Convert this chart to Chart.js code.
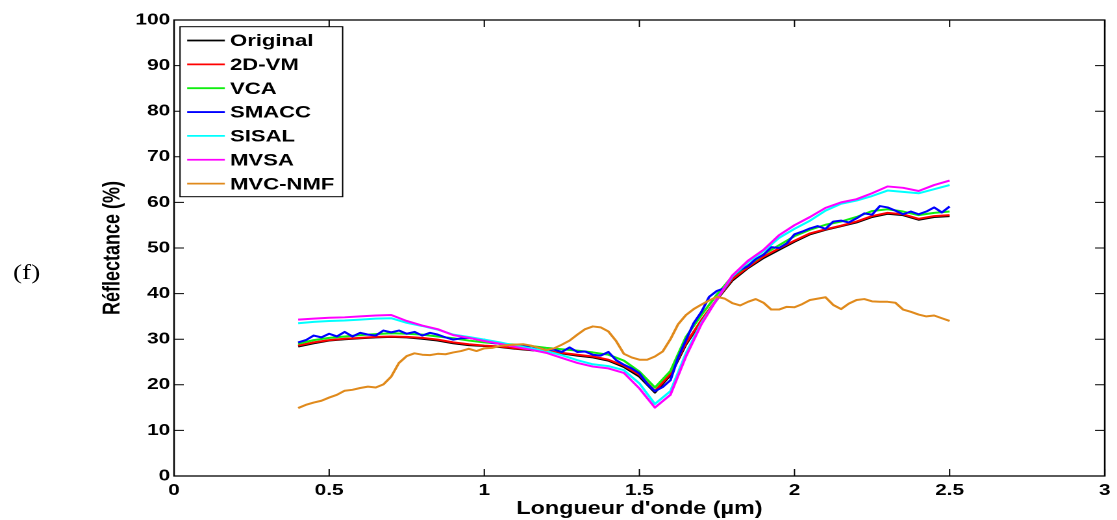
<!DOCTYPE html>
<html>
<head>
<meta charset="utf-8">
<script src="https://cdn.jsdelivr.net/npm/chart.js@4.4.1/dist/chart.umd.min.js"></script>
<style>
  html, body { margin: 0; padding: 0; background: #fff; overflow: hidden; }
  /* the source figure is stretched horizontally, so the whole chart is drawn narrow and scaled */
  #wrap { position: absolute; left: 0; top: 0; width: 860px; height: 520px; transform: scaleX(1.29884); transform-origin: 0 0; }
  #panel { position: absolute; left: 10px; top: 260px; font: 21px "Liberation Serif", "DejaVu Serif", serif; color: #000; }
</style>
</head>
<body>
<div id="wrap">
  <canvas id="spectraChart"></canvas>
  <div id="panel">(f)</div>
</div>
<script>
// wavelengths (µm)
const waveCoarse = [0.40, 0.45, 0.50, 0.55, 0.60, 0.65, 0.70, 0.75, 0.80, 0.85,
    0.90, 0.95, 1.00, 1.05, 1.10, 1.15, 1.20, 1.25, 1.30, 1.35,
    1.40, 1.45, 1.50, 1.55, 1.60, 1.65, 1.70, 1.75, 1.80, 1.85,
    1.90, 1.95, 2.00, 2.05, 2.10, 2.15, 2.20, 2.25, 2.30, 2.35,
    2.40, 2.45, 2.50];
const waveFine = [0.400, 0.425, 0.450, 0.475, 0.500, 0.525, 0.550, 0.575, 0.600, 0.625,
    0.650, 0.675, 0.700, 0.725, 0.750, 0.775, 0.800, 0.825, 0.850, 0.875,
    0.900, 0.925, 0.950, 0.975, 1.000, 1.025, 1.050, 1.075, 1.100, 1.125,
    1.150, 1.175, 1.200, 1.225, 1.250, 1.275, 1.300, 1.325, 1.350, 1.375,
    1.400, 1.425, 1.450, 1.475, 1.500, 1.525, 1.550, 1.575, 1.600, 1.625,
    1.650, 1.675, 1.700, 1.725, 1.750, 1.775, 1.800, 1.825, 1.850, 1.875,
    1.900, 1.925, 1.950, 1.975, 2.000, 2.025, 2.050, 2.075, 2.100, 2.125,
    2.150, 2.175, 2.200, 2.225, 2.250, 2.275, 2.300, 2.325, 2.350, 2.375,
    2.400, 2.425, 2.450, 2.475, 2.500];

// reflectance (%) on waveCoarse
const original = [28.4, 29.1, 29.7, 30.0, 30.2, 30.4, 30.5, 30.4, 30.1, 29.7,
    29.1, 28.7, 28.5, 28.3, 27.9, 27.6, 27.3, 26.9, 26.4, 26.0,
    25.3, 23.9, 21.8, 18.3, 22.1, 28.8, 34.0, 38.7, 42.9, 45.6,
    47.8, 49.6, 51.4, 53.0, 54.0, 54.8, 55.6, 56.8, 57.5, 57.2,
    56.2, 56.8, 57.0];
const vm2d = [28.6, 29.3, 29.8, 30.1, 30.3, 30.5, 30.6, 30.5, 30.3, 29.9,
    29.3, 28.9, 28.6, 28.4, 28.0, 27.7, 27.4, 27.0, 26.6, 26.2,
    25.5, 24.2, 22.2, 18.6, 22.4, 29.1, 34.2, 38.8, 43.2, 45.8,
    48.1, 49.9, 51.6, 53.2, 54.1, 54.9, 55.8, 57.0, 57.7, 57.4,
    56.4, 57.0, 57.2];
const vca = [29.0, 29.8, 30.3, 30.6, 30.9, 31.1, 31.3, 31.2, 31.0, 30.6,
    30.2, 29.7, 29.3, 29.0, 28.8, 28.5, 28.1, 27.8, 27.5, 27.1,
    26.6, 25.3, 22.9, 19.4, 23.0, 30.5, 35.3, 39.8, 43.8, 46.2,
    48.6, 50.6, 52.6, 54.0, 55.1, 55.8, 56.8, 58.1, 58.5, 58.0,
    57.2, 57.7, 58.0];
const sisal = [33.5, 33.8, 34.0, 34.1, 34.3, 34.5, 34.6, 33.6, 32.9, 32.1,
    31.0, 30.5, 29.9, 29.3, 28.6, 28.0, 27.4, 26.5, 25.4, 24.5,
    24.1, 23.2, 20.3, 15.8, 18.6, 26.9, 33.6, 38.8, 43.8, 46.9,
    49.3, 52.2, 54.2, 56.0, 58.2, 59.7, 60.4, 61.4, 62.6, 62.3,
    62.0, 62.9, 63.8];
const mvsa = [34.3, 34.5, 34.7, 34.8, 35.0, 35.2, 35.3, 34.0, 33.0, 32.2,
    30.9, 30.3, 29.6, 29.0, 28.3, 27.7, 27.0, 25.9, 24.8, 24.0,
    23.6, 22.6, 19.2, 15.0, 17.8, 26.2, 33.3, 38.8, 44.0, 47.2,
    49.6, 52.8, 55.0, 56.8, 58.8, 60.0, 60.7, 62.0, 63.5, 63.2,
    62.5, 63.8, 64.8];

// reflectance (%) on waveFine
const smacc = [29.3, 29.8, 30.8, 30.4, 31.2, 30.6, 31.6, 30.6, 31.4, 31.0,
    30.8, 31.9, 31.5, 31.9, 31.2, 31.6, 30.8, 31.4, 31.0, 30.4,
    29.9, 30.2, 30.3, 30.0, 29.9, 29.2, 29.0, 28.7, 28.6, 28.8,
    28.0, 28.1, 27.6, 27.7, 27.2, 28.2, 27.2, 27.3, 26.6, 26.4,
    27.2, 25.4, 24.4, 23.6, 22.5, 20.2, 18.6, 19.5, 21.0, 26.0,
    29.8, 33.5, 36.0, 39.3, 40.6, 41.2, 43.8, 45.2, 46.0, 47.6,
    48.5, 50.2, 50.0, 51.0, 53.0, 53.6, 54.3, 54.8, 54.2, 55.8,
    56.0, 55.6, 56.5, 57.6, 57.3, 59.2, 58.9, 58.2, 57.4, 58.0,
    57.4, 58.0, 58.9, 57.8, 59.1];
const mvcNmf = [14.9, 15.6, 16.1, 16.5, 17.2, 17.8, 18.7, 18.9, 19.3, 19.6,
    19.4, 20.1, 21.8, 24.8, 26.3, 26.9, 26.6, 26.5, 26.8, 26.7,
    27.1, 27.4, 27.9, 27.4, 28.0, 28.1, 28.5, 28.7, 28.8, 28.9,
    28.6, 28.1, 27.6, 28.0, 28.8, 29.7, 31.0, 32.2, 32.8, 32.6,
    31.7, 29.6, 26.8, 26.0, 25.5, 25.5, 26.2, 27.3, 30.0, 33.3,
    35.3, 36.6, 37.6, 38.5, 39.3, 38.9, 37.9, 37.4, 38.2, 38.8,
    38.0, 36.5, 36.5, 37.1, 37.0, 37.7, 38.6, 38.9, 39.2, 37.5,
    36.6, 37.8, 38.6, 38.8, 38.3, 38.2, 38.2, 38.0, 36.5, 36.0,
    35.4, 35.0, 35.2, 34.6, 34.0];

const seriesNames = ["Original", "2D-VM", "VCA", "SMACC", "SISAL", "MVSA", "MVC-NMF"];
const seriesColors = ["#000000", "#ff0000", "#10ee10", "#0000ff", "#00ffff", "#ff00ff", "#e08a1c"];
const seriesValues = [original, vm2d, vca, smacc, sisal, mvsa, mvcNmf];
const seriesWaves = [waveCoarse, waveCoarse, waveCoarse, waveFine, waveCoarse, waveCoarse, waveFine];

const xTicks = [0, 0.5, 1, 1.5, 2, 2.5, 3];

const datasets = seriesNames.map((name, i) => ({
    label: name,
    data: seriesWaves[i].map((w, k) => ({ x: w, y: seriesValues[i][k] })),
    borderColor: seriesColors[i],
    borderWidth: 2,
    borderJoinStyle: 'round',
    pointRadius: 0,
    tension: 0,
    fill: false,
    order: seriesNames.length - i   // later series on top, like the matlab plot
}));

// box, inward ticks and the boxed legend
const frameAndLegend = {
    id: 'frameAndLegend',
    afterDraw(chart) {
        const ctx = chart.ctx;
        const a = chart.chartArea;
        const xs = chart.scales.x, ys = chart.scales.y;
        ctx.save();
        ctx.strokeStyle = '#000';
        ctx.lineWidth = 1.3;
        ctx.strokeRect(a.left, a.top, a.right - a.left, a.bottom - a.top);

        ctx.lineWidth = 1;
        ctx.beginPath();
        xs.ticks.forEach(t => {
            const px = xs.getPixelForValue(t.value);
            ctx.moveTo(px, a.bottom); ctx.lineTo(px, a.bottom - 7);
            ctx.moveTo(px, a.top); ctx.lineTo(px, a.top + 7);
        });
        ys.ticks.forEach(t => {
            const py = ys.getPixelForValue(t.value);
            ctx.moveTo(a.left, py); ctx.lineTo(a.left + 7.5, py);
            ctx.moveTo(a.right, py); ctx.lineTo(a.right - 7.5, py);
        });
        ctx.stroke();

        // legend
        const lx = a.left + 4.6, ly = 26.7, lw = 125.2, lh = 170;
        ctx.fillStyle = '#fff';
        ctx.fillRect(lx, ly, lw, lh);
        ctx.strokeStyle = '#000';
        ctx.lineWidth = 1;
        ctx.strokeRect(lx, ly, lw, lh);
        ctx.font = 'bold 17px "Liberation Sans", Arial, sans-serif';
        ctx.textBaseline = 'middle';
        ctx.textAlign = 'left';
        chart.data.datasets.forEach((ds, i) => {
            const y = 40.5 + i * 23.85;
            ctx.strokeStyle = ds.borderColor;
            ctx.lineWidth = 1.8;
            ctx.beginPath();
            ctx.moveTo(lx + 5.5, y);
            ctx.lineTo(lx + 34.5, y);
            ctx.stroke();
            ctx.fillStyle = '#000';
            ctx.fillText(ds.label, lx + 38.5, y + 1);
        });
        ctx.restore();
    }
};

const tickFont = { family: '"Liberation Sans", Arial, sans-serif', size: 16, weight: 'bold' };
const titleFont = { family: '"Liberation Sans", Arial, sans-serif', size: 18, weight: 'bold' };

new Chart(document.getElementById('spectraChart').getContext('2d'), {
    type: 'line',
    data: { datasets: datasets },
    options: {
        responsive: true,
        maintainAspectRatio: false,
        animation: false,
        devicePixelRatio: 2,
        layout: { padding: { left: 76, right: 8.5, top: 20, bottom: 0 } },
        scales: {
            x: {
                type: 'linear',
                min: 0,
                max: 3,
                afterBuildTicks: (scale) => { scale.ticks = xTicks.map(v => ({ value: v })); },
                afterFit: (scale) => { scale.height = 44; },
                grid: { display: false, drawTicks: false },
                border: { display: false },
                ticks: { font: tickFont, color: '#000', padding: 5, maxRotation: 0, callback: v => String(v) },
                title: { display: true, text: "Longueur d'onde (µm)", font: titleFont, color: '#000', padding: 0 }
            },
            y: {
                min: 0,
                max: 100,
                afterFit: (scale) => { scale.width = 58; },
                grid: { display: false, drawTicks: false },
                border: { display: false },
                ticks: { stepSize: 10, font: tickFont, color: '#000', padding: 3, callback: v => String(v) },
                title: { display: true, text: 'Réflectance (%)', font: titleFont, color: '#000', padding: { top: 0, bottom: 0, y: 0 } }
            }
        },
        plugins: {
            legend: { display: false },
            tooltip: { enabled: false }
        }
    },
    plugins: [frameAndLegend]
});
</script>
</body>
</html>
